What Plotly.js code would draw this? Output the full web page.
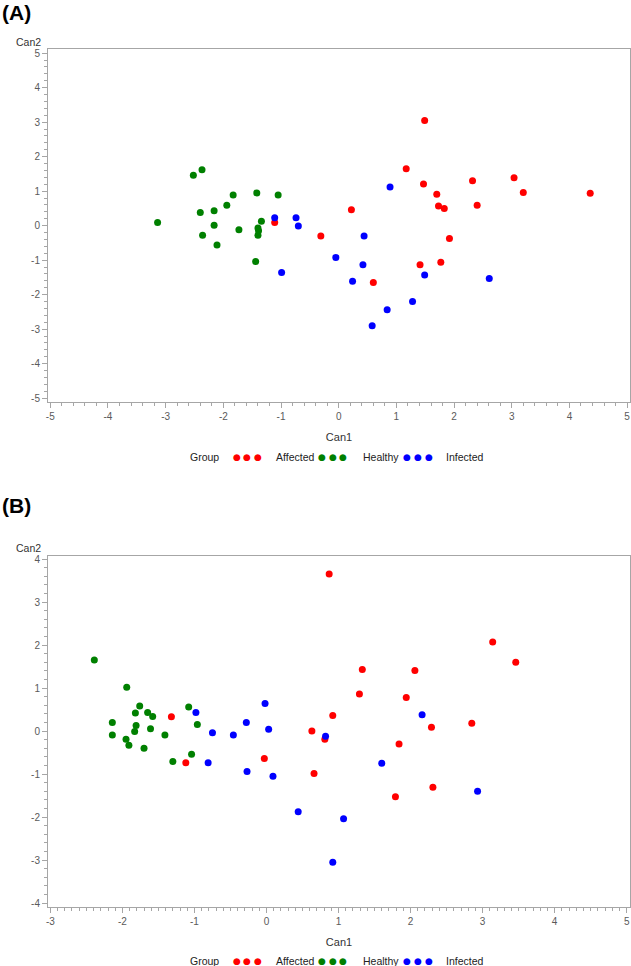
<!DOCTYPE html>
<html>
<head>
<meta charset="utf-8">
<script src="https://cdn.plot.ly/plotly-3.0.1.min.js"></script>
<style>html,body{margin:0;padding:0;background:#fff;}#chart{width:631px;height:966px;}</style>
</head>
<body>
<div id="chart"></div>
<script>
// ---- Data ----
const groups = ['Affected', 'Healthy', 'Infected'];
const groupColors = ['#ff0000', '#008000', '#0000ff'];
const panelLabels = ['(A)', '(B)'];
const xTitle = 'Can1';
const yTitle = 'Can2';
const legendTitle = 'Group';

// Panel A
const affectedA_x = [-1.11, 1.49, 1.17, 1.47, 1.70, 2.32, 3.04, 3.20, 4.36, 0.22, 1.73, 1.83, 2.40, -0.31, 1.92, 1.77, 1.41, 0.60];
const affectedA_y = [0.09, 3.05, 1.65, 1.21, 0.91, 1.30, 1.39, 0.96, 0.94, 0.46, 0.57, 0.50, 0.59, -0.30, -0.37, -1.06, -1.13, -1.65];
const healthyA_x = [-2.52, -2.37, -1.83, -1.42, -1.05, -1.94, -2.40, -2.16, -3.14, -2.16, -1.34, -1.73, -1.40, -1.39, -1.40, -2.36, -2.11, -1.44];
const healthyA_y = [1.46, 1.62, 0.89, 0.95, 0.89, 0.59, 0.38, 0.43, 0.09, 0.01, 0.13, -0.12, -0.07, -0.15, -0.28, -0.28, -0.56, -1.04];
const infectedA_x = [-1.11, -0.74, -0.70, -0.99, 0.89, -0.05, 0.44, 0.42, 0.24, 1.49, 2.61, 1.28, 0.84, 0.58];
const infectedA_y = [0.23, 0.23, -0.01, -1.36, 1.12, -0.92, -0.30, -1.13, -1.61, -1.43, -1.53, -2.20, -2.44, -2.90];

// Panel B
const affectedB_x = [-1.32, -1.12, -0.03, 0.63, 0.66, 0.87, 3.14, 3.46, 1.33, 2.06, 1.29, 1.94, 0.92, 2.85, 2.29, 0.81, 1.84, 2.31, 1.79];
const affectedB_y = [0.33, -0.74, -0.64, 0.00, -0.99, 3.65, 2.07, 1.60, 1.43, 1.41, 0.86, 0.78, 0.36, 0.18, 0.09, -0.19, -0.30, -1.31, -1.53];
const healthyB_x = [-2.39, -1.94, -1.76, -1.82, -1.65, -1.58, -2.14, -1.81, -1.08, -0.96, -2.14, -1.83, -1.61, -1.41, -1.95, -1.91, -1.70, -1.30, -1.04];
const healthyB_y = [1.65, 1.02, 0.58, 0.42, 0.43, 0.34, 0.20, 0.13, 0.56, 0.15, -0.09, -0.01, 0.05, -0.09, -0.19, -0.33, -0.40, -0.71, -0.54];
const infectedB_x = [-0.98, -0.28, -0.02, -0.75, -0.46, 0.03, -0.81, -0.27, 0.09, 0.44, 2.16, 0.82, 1.60, 2.93, 1.07, 0.92];
const infectedB_y = [0.43, 0.20, 0.64, -0.04, -0.09, 0.04, -0.74, -0.94, -1.05, -1.88, 0.38, -0.12, -0.75, -1.40, -2.04, -3.05];

const xTicksA = [-5, -4, -3, -2, -1, 0, 1, 2, 3, 4, 5];
const yTicksA = [-5, -4, -3, -2, -1, 0, 1, 2, 3, 4, 5];
const xTicksB = [-3, -2, -1, 0, 1, 2, 3, 4, 5];
const yTicksB = [-4, -3, -2, -1, 0, 1, 2, 3, 4];

// ---- Layout helpers ----
const W = 631, H = 966;
const px = v => v / W;
const py = v => 1 - v / H;
const FONT = 'Liberation Sans, Arial, sans-serif';

const seriesA = [[affectedA_x, affectedA_y], [healthyA_x, healthyA_y], [infectedA_x, infectedA_y]];
const seriesB = [[affectedB_x, affectedB_y], [healthyB_x, healthyB_y], [infectedB_x, infectedB_y]];

const traces = [];
[[seriesA, 'x', 'y'], [seriesB, 'x2', 'y2']].forEach(([ser, xa, ya]) => {
  ser.forEach((s, i) => {
    traces.push({
      type: 'scatter', mode: 'markers', name: groups[i],
      x: s[0], y: s[1], xaxis: xa, yaxis: ya, showlegend: false,
      marker: {color: groupColors[i], size: 7, symbol: 'circle', line: {width: 0}}
    });
  });
});

function axis(domain, range, tickvals, minorDtick, extra) {
  return Object.assign({
    domain: domain, range: range, tickmode: 'array', tickvals: tickvals,
    ticktext: tickvals.map(String),
    showgrid: false, zeroline: false, showline: true, mirror: true,
    linecolor: '#a6a6a6', linewidth: 1,
    ticks: 'outside', ticklen: 5, tickcolor: '#a6a6a6', tickwidth: 1,
    tickfont: {family: FONT, size: 10, color: '#5a5a5a'},
    minor: {dtick: minorDtick, ticks: 'outside', ticklen: 3, tickcolor: '#a6a6a6', tickwidth: 1, showgrid: false},
    fixedrange: true
  }, extra || {});
}

const xDom = [px(48), px(630)];
const layout = {
  width: W, height: H, margin: {l: 0, r: 0, t: 0, b: 0},
  paper_bgcolor: '#ffffff', plot_bgcolor: '#ffffff', showlegend: false,
  font: {family: FONT},
  xaxis: axis(xDom, [-5.04, 5.05], xTicksA, 0.2, {anchor: 'y',
    title: {text: xTitle, font: {family: FONT, size: 11, color: '#333333'}, standoff: 12}}),
  yaxis: axis([py(402), py(49)], [-5.11, 5.12], yTicksA, 0.2, {anchor: 'x'}),
  xaxis2: axis(xDom, [-3.033, 5.046], xTicksB, 0.1, {anchor: 'y2',
    title: {text: xTitle, font: {family: FONT, size: 11, color: '#333333'}, standoff: 12}}),
  yaxis2: axis([py(907.3), py(555.7)], [-4.10, 4.077], yTicksB, 0.2, {anchor: 'x2'}),
  annotations: []
};

const ann = layout.annotations;
// Panel labels
[[12, panelLabels[0]], [505, panelLabels[1]]].forEach(([y, t]) => {
  ann.push({xref: 'paper', yref: 'paper', x: px(0), y: py(y), xanchor: 'left', yanchor: 'middle',
    text: '<b>' + t + '</b>', showarrow: false, font: {family: FONT, size: 21, color: '#000'}});
});
// y titles
[42, 548].forEach(y => {
  ann.push({xref: 'paper', yref: 'paper', x: px(28), y: py(y), xanchor: 'center', yanchor: 'middle',
    text: yTitle, showarrow: false, font: {family: FONT, size: 10.5, color: '#333333'}});
});
// custom legends
[457, 961].forEach(y => {
  ann.push({xref: 'paper', yref: 'paper', x: px(188), y: py(y), xanchor: 'left', yanchor: 'middle',
    text: legendTitle, showarrow: false, font: {family: FONT, size: 10.5, color: '#222'}});
  const dotX = [[236.7, 247.3, 258], [321.7, 332.7, 343.3], [407.3, 418, 429]];
  const labX = [274, 361, 444];
  groups.forEach((g, i) => {
    dotX[i].forEach(dx => {
      ann.push({xref: 'paper', yref: 'paper', x: px(dx), y: py(y), xanchor: 'center', yanchor: 'middle',
        text: '●', showarrow: false, font: {family: 'DejaVu Sans', size: 9, color: groupColors[i]}});
    });
    ann.push({xref: 'paper', yref: 'paper', x: px(labX[i]), y: py(y), xanchor: 'left', yanchor: 'middle',
      text: g, showarrow: false, font: {family: FONT, size: 10.5, color: '#222'}});
  });
});

Plotly.newPlot('chart', traces, layout, {staticPlot: true, displayModeBar: false});
</script>
</body>
</html>
